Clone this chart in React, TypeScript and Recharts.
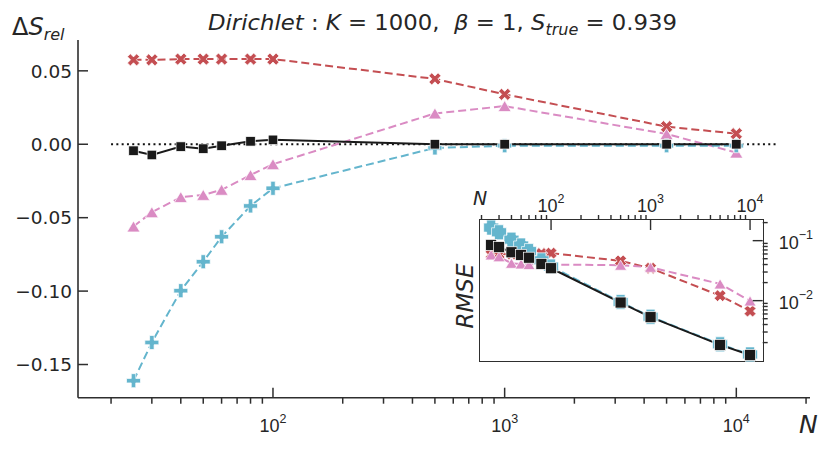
import React from 'react';
import { ComposedChart, Line, XAxis, YAxis } from 'recharts';

// sample sizes N shared by every estimator
const sampleSizes = [25, 30, 40, 50, 60, 80, 100, 500, 1000, 5000, 10000];

// relative bias (main panel)
const biasRed = [0.0575, 0.0575, 0.058, 0.058, 0.058, 0.058, 0.058, 0.0445, 0.034, 0.012, 0.0072];
const biasPink = [-0.056, -0.0463, -0.036, -0.0345, -0.031, -0.021, -0.0136, 0.021, 0.026, 0.007, -0.0057];
const biasCyan = [-0.161, -0.135, -0.0997, -0.08, -0.063, -0.042, -0.03, -0.0025, -0.001, -0.001, -0.001];
const biasBlack = [-0.0044, -0.0073, -0.0016, -0.003, -0.001, 0.002, 0.003, 0, 0, 0, 0];

// RMSE (inset)
const rmseRed = [0.059, 0.059, 0.06, 0.06, 0.06, 0.061, 0.062, 0.046, 0.0347, 0.0121, 0.0067];
const rmsePink = [0.058, 0.054, 0.042, 0.041, 0.04, 0.04, 0.04, 0.039, 0.036, 0.019, 0.0099];
const rmseCyan = [0.165, 0.138, 0.104, 0.083, 0.067, 0.047, 0.037, 0.0095, 0.0054, 0.00187, 0.00127];
const rmseBlack = [0.085, 0.078, 0.064, 0.058, 0.052, 0.041, 0.0347, 0.0093, 0.0053, 0.00183, 0.00124];

// dotted reference at zero
const zeroLineN = [20, 15000];

// ticks
const mainXTicks = [
  20, 30, 40, 50, 60, 70, 80, 90, 100,
  200, 300, 400, 500, 600, 700, 800, 900, 1000,
  2000, 3000, 4000, 5000, 6000, 7000, 8000, 9000, 10000, 20000,
];
const mainYTicks = [-0.15, -0.1, -0.05, 0, 0.05];
const insetXTicks = [
  20, 30, 40, 50, 60, 70, 80, 90, 100,
  200, 300, 400, 500, 600, 700, 800, 900, 1000,
  2000, 3000, 4000, 5000, 6000, 7000, 8000, 9000, 10000,
];
const insetYTicks = [
  0.002, 0.003, 0.004, 0.005, 0.006, 0.007, 0.008, 0.009, 0.01,
  0.02, 0.03, 0.04, 0.05, 0.06, 0.07, 0.08, 0.09, 0.1, 0.2,
];

const RED = '#C44E52';
const PINK = '#DA8BC3';
const CYAN = '#64B5CD';
const BLACK = '#1A1A1A';
const AXIS = '#2E2E2E';
const TEXT = '#262626';
const TICK_FONT = '"Liberation Sans", Arial, sans-serif';
const MATH_FONT = '"DejaVu Sans", sans-serif';

const toRows = (ys: number[]) => sampleSizes.map((n, i) => ({ n, v: ys[i] }));
const zeroRows = zeroLineN.map((n) => ({ n, v: 0 }));

const isDecade = (v: number) => Math.abs(Math.log10(v) - Math.round(Math.log10(v))) < 1e-9;

const plusPoints = (h: number, w: number) =>
  [
    [-w, -h], [w, -h], [w, -w], [h, -w], [h, w], [w, w],
    [w, h], [-w, h], [-w, w], [-h, w], [-h, -w], [-w, -w],
  ]
    .map((p) => p.join(','))
    .join(' ');

type Shape = 'square' | 'triangle' | 'x' | 'plus';

const makeDot = (shape: Shape, color: string, size: number, arm = 0.16) => (props: any) => {
  const { cx, cy, index } = props;
  const key = `d-${shape}-${index}`;
  if (cx == null || cy == null) return <g key={key} />;
  const edge = { stroke: '#ffffff', strokeWidth: 0.7 };
  if (shape === 'square') {
    return <rect key={key} x={cx - size / 2} y={cy - size / 2} width={size} height={size} fill={color} {...edge} />;
  }
  if (shape === 'triangle') {
    const h = size * 0.42;
    const w = size / 2;
    return (
      <polygon key={key} points={`${cx},${cy - h} ${cx + w},${cy + h} ${cx - w},${cy + h}`} fill={color} {...edge} />
    );
  }
  const pts = plusPoints(size / 2, size * arm);
  return (
    <polygon
      key={key}
      points={pts}
      transform={`translate(${cx},${cy}) rotate(${shape === 'x' ? 45 : 0})`}
      fill={color}
      {...edge}
    />
  );
};

const MainXTick = (props: any) => {
  const { x, y, payload } = props;
  const v = payload.value;
  const major = isDecade(v);
  return (
    <g>
      <line x1={x} x2={x} y1={y} y2={major ? y - 10 : y + 6} stroke={AXIS} strokeWidth={1.5} />
      {major && (
        <text x={x} y={y + 34.5} textAnchor="middle" fontFamily={TICK_FONT} fontSize={18} fill={TEXT}>
          10
          <tspan dy={-9} fontSize={12.5}>{Math.round(Math.log10(v))}</tspan>
        </text>
      )}
    </g>
  );
};

const MainYTick = (props: any) => {
  const { x, y, payload } = props;
  const v = payload.value as number;
  const label = (v < 0 ? '\u2212' : '') + Math.abs(v).toFixed(2);
  return (
    <g>
      <line x1={x} x2={x + 10} y1={y} y2={y} stroke={AXIS} strokeWidth={1.5} />
      <text x={x - 6} y={y + 6.7} textAnchor="end" fontFamily={MATH_FONT} fontSize={18.5} fill={TEXT}>
        {label}
      </text>
    </g>
  );
};

const InsetXTick = (props: any) => {
  const { x, y, payload } = props;
  const v = payload.value;
  const major = isDecade(v);
  return (
    <g>
      <line x1={x} x2={x} y1={y} y2={major ? y + 10 : y - 5} stroke={AXIS} strokeWidth={1.4} />
      {major && (
        <text x={x} y={y - 8.5} textAnchor="middle" fontFamily={TICK_FONT} fontSize={18} fill={TEXT}>
          10
          <tspan dy={-9} fontSize={12.5}>{Math.round(Math.log10(v))}</tspan>
        </text>
      )}
    </g>
  );
};

const InsetYTick = (props: any) => {
  const { x, y, payload } = props;
  const v = payload.value;
  const major = isDecade(v);
  return (
    <g>
      <line x1={x} x2={major ? x - 10 : x + 5} y1={y} y2={y} stroke={AXIS} strokeWidth={1.4} />
      {major && (
        <text x={x + 16} y={y + 8.5} fontFamily={TICK_FONT} fontSize={18} fill={TEXT}>
          10
          <tspan dy={-10} fontSize={12.5}>{'\u2212' + Math.abs(Math.round(Math.log10(v)))}</tspan>
        </text>
      )}
    </g>
  );
};

const dashed = '8 4';

export default function App() {
  return (
    <div style={{ position: 'absolute', left: 0, top: 0, width: 830, height: 451, background: '#fff' }}>
      <div style={{ position: 'absolute', left: 0, top: 0 }}>
        <ComposedChart width={830} height={451} margin={{ top: 40, right: 20, bottom: 23.3, left: 18 }}>
          <XAxis
            dataKey="n"
            type="number"
            scale="log"
            domain={[14.4, 20800]}
            allowDataOverflow
            ticks={mainXTicks}
            interval={0}
            tickLine={false}
            tickSize={0}
            tickMargin={0}
            height={30}
            axisLine={{ stroke: AXIS, strokeWidth: 1.6 }}
            tick={(p: any) => <MainXTick {...p} />}
          />
          <YAxis
            type="number"
            domain={[-0.1726, 0.071]}
            allowDataOverflow
            ticks={mainYTicks}
            interval={0}
            tickLine={false}
            tickSize={0}
            tickMargin={0}
            width={60}
            axisLine={{ stroke: AXIS, strokeWidth: 1.6 }}
            tick={(p: any) => <MainYTick {...p} />}
          />
          <Line data={zeroRows} dataKey="v" stroke="#111" strokeWidth={2} strokeDasharray="2 3.3" dot={false} activeDot={false} isAnimationActive={false} />
          <Line data={toRows(biasRed)} dataKey="v" stroke={RED} strokeWidth={2} strokeDasharray={dashed} dot={makeDot('x', RED, 13)} activeDot={false} isAnimationActive={false} />
          <Line data={toRows(biasPink)} dataKey="v" stroke={PINK} strokeWidth={2} strokeDasharray={dashed} dot={makeDot('triangle', PINK, 13)} activeDot={false} isAnimationActive={false} />
          <Line data={toRows(biasCyan)} dataKey="v" stroke={CYAN} strokeWidth={2} strokeDasharray={dashed} dot={makeDot('plus', CYAN, 14)} activeDot={false} isAnimationActive={false} />
          <Line data={toRows(biasBlack)} dataKey="v" stroke={BLACK} strokeWidth={2} dot={makeDot('square', BLACK, 9.5)} activeDot={false} isAnimationActive={false} />
        </ComposedChart>
      </div>

      <div
        style={{
          position: 'absolute',
          left: 478.5,
          top: 219.2,
          width: 285,
          height: 143.3,
          boxSizing: 'border-box',
          border: `1.6px solid ${AXIS}`,
          background: '#fff',
        }}
      />

      <div style={{ position: 'absolute', left: 0, top: 0 }}>
        <ComposedChart width={830} height={451} margin={{ top: 190, right: 7.3, bottom: 89.3, left: 479.3 }}>
          <XAxis
            dataKey="n"
            type="number"
            scale="log"
            orientation="top"
            domain={[19, 13400]}
            allowDataOverflow
            ticks={insetXTicks}
            interval={0}
            tickLine={false}
            tickSize={0}
            tickMargin={0}
            height={30}
            axisLine={false}
            tick={(p: any) => <InsetXTick {...p} />}
          />
          <YAxis
            type="number"
            scale="log"
            orientation="right"
            domain={[0.00096, 0.221]}
            allowDataOverflow
            ticks={insetYTicks}
            interval={0}
            tickLine={false}
            tickSize={0}
            tickMargin={0}
            width={60}
            axisLine={false}
            tick={(p: any) => <InsetYTick {...p} />}
          />
          <Line data={toRows(rmseRed)} dataKey="v" stroke={RED} strokeWidth={2} strokeDasharray={dashed} dot={makeDot('x', RED, 12, 0.2)} activeDot={false} isAnimationActive={false} />
          <Line data={toRows(rmsePink)} dataKey="v" stroke={PINK} strokeWidth={2} strokeDasharray={dashed} dot={makeDot('triangle', PINK, 12)} activeDot={false} isAnimationActive={false} />
          <Line data={toRows(rmseCyan)} dataKey="v" stroke={CYAN} strokeWidth={2} strokeDasharray={dashed} dot={makeDot('plus', CYAN, 15, 0.3)} activeDot={false} isAnimationActive={false} />
          <Line data={toRows(rmseBlack)} dataKey="v" stroke={BLACK} strokeWidth={2} dot={makeDot('square', BLACK, 11)} activeDot={false} isAnimationActive={false} />
        </ComposedChart>
      </div>

      <svg width={830} height={451} style={{ position: 'absolute', left: 0, top: 0, pointerEvents: 'none' }}>
        <text
          x={208}
          y={30}
          textLength={469}
          lengthAdjust="spacingAndGlyphs"
          fontFamily={MATH_FONT}
          fontSize={22}
          fill={TEXT}
          style={{ whiteSpace: 'pre' }}
        >
          <tspan fontStyle="italic">Dirichlet</tspan>
          <tspan>{' : '}</tspan>
          <tspan fontStyle="italic">K</tspan>
          <tspan>{' = 1000,  '}</tspan>
          <tspan fontStyle="italic">β</tspan>
          <tspan>{' = 1, '}</tspan>
          <tspan fontStyle="italic">S</tspan>
          <tspan dy={5} fontSize={15.5} fontStyle="italic">true</tspan>
          <tspan dy={-5}>{' = 0.939'}</tspan>
        </text>

        <text x={12} y={35} fontFamily={MATH_FONT} fontSize={24} fill={TEXT}>
          Δ<tspan fontStyle="italic">S</tspan>
          <tspan dy={5} fontSize={16} fontStyle="italic">rel</tspan>
        </text>
        <text x={799} y={433} fontFamily={MATH_FONT} fontSize={25} fontStyle="italic" fill={TEXT}>
          N
        </text>
        <text x={473} y={205} fontFamily={MATH_FONT} fontSize={19} fontStyle="italic" fill={TEXT}>
          N
        </text>
        <text
          x={0}
          y={0}
          transform="translate(465,296) rotate(-90)"
          textAnchor="middle"
          dominantBaseline="central"
          fontFamily={MATH_FONT}
          fontSize={23}
          fontStyle="italic"
          fill={TEXT}
        >
          RMSE
        </text>
      </svg>
    </div>
  );
}
